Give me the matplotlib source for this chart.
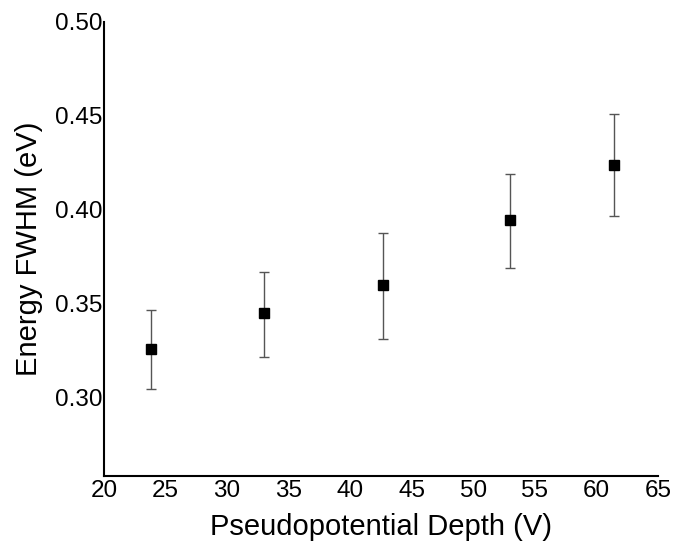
import matplotlib
matplotlib.use("Agg")
import matplotlib.pyplot as plt

plt.rcParams["font.family"] = ["Liberation Sans", "DejaVu Sans"]

depth = [23.8, 33.0, 42.7, 53.0, 61.4]
fwhm = [0.326, 0.345, 0.360, 0.3945, 0.424]
err_low = [0.305, 0.322, 0.3315, 0.369, 0.397]
err_high = [0.347, 0.367, 0.3876, 0.419, 0.451]

yerr = [
    [f - lo for f, lo in zip(fwhm, err_low)],
    [hi - f for f, hi in zip(fwhm, err_high)],
]

fig = plt.figure(figsize=(6.78, 5.54), dpi=100)
ax = fig.add_axes([0.1534, 0.1408, 0.8171, 0.8195])

ax.errorbar(
    depth,
    fwhm,
    yerr=yerr,
    fmt="s",
    color="black",
    ecolor="#555555",
    elinewidth=1.0,
    capsize=3.5,
    capthick=1.0,
    markersize=7.2,
)

ax.set_xlim(20, 65)
ax.set_ylim(0.2585, 0.50)
ax.set_xticks([20, 25, 30, 35, 40, 45, 50, 55, 60, 65])
ax.set_yticks([0.30, 0.35, 0.40, 0.45, 0.50])
ax.set_yticklabels(["0.30", "0.35", "0.40", "0.45", "0.50"])
ax.tick_params(axis="both", length=0, labelsize=17.5)
ax.tick_params(axis="y", pad=1)
ax.tick_params(axis="x", pad=3)
ax.spines["top"].set_visible(False)
ax.spines["right"].set_visible(False)
ax.spines["left"].set_linewidth(1.5)
ax.spines["bottom"].set_linewidth(1.5)
ax.set_xlabel("Pseudopotential Depth (V)", fontsize=21, labelpad=8)
ax.set_ylabel("Energy FWHM (eV)", fontsize=21, labelpad=9)

fig.savefig("out.png", dpi=100)
